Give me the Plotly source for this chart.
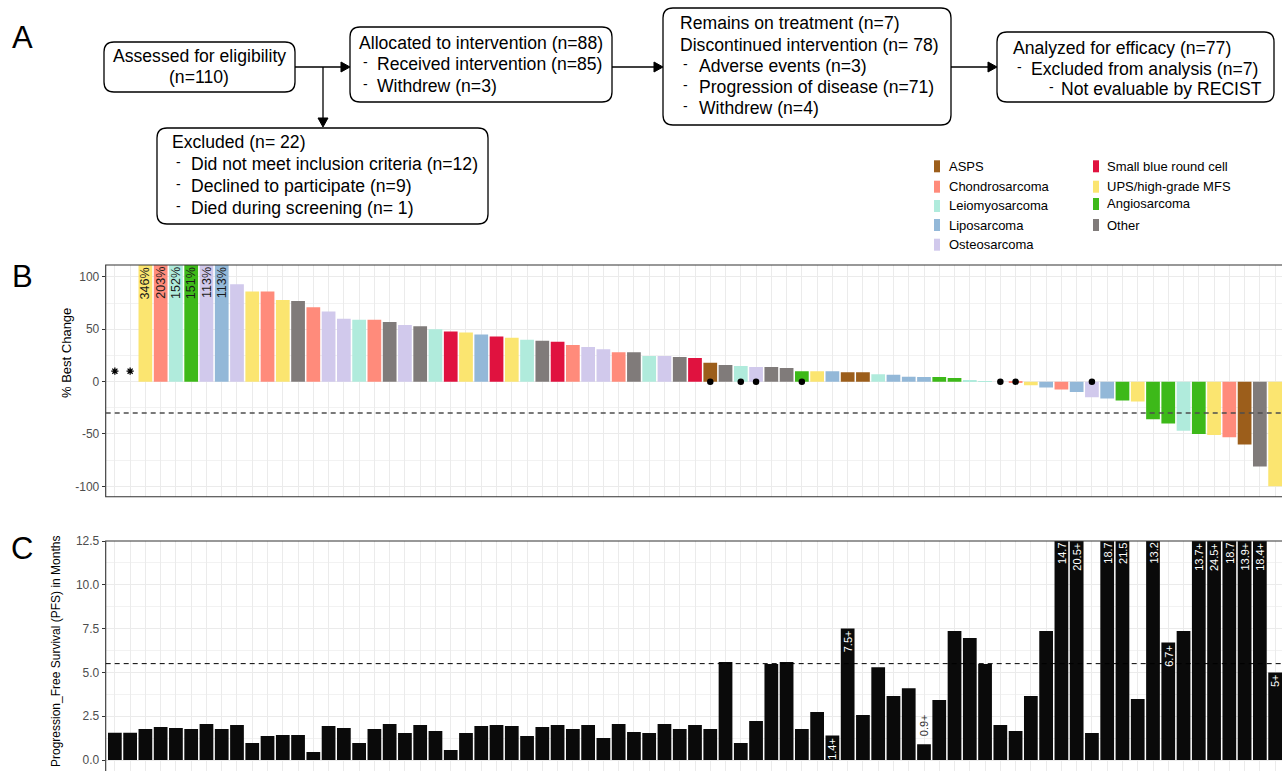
import plotly.graph_objects as go

W, H = 1282, 771

# ---------------- data ----------------
patients = list(range(1, 78))

best_change = [None, None, 346, 203, 152, 151, 113, 113, 93, 86, 86, 78, 77, 71, 67, 60, 59, 59,
               57, 54, 53, 50, 48, 47, 45, 43, 42, 40, 39, 38, 35, 33, 31, 28, 28, 24.5, 24.5,
               23.5, 22.5, 18, 16, 15, 14, 14, 13, 10, 10, 10, 9, 9, 7, 6.5, 4.7, 4.5, 4.5, 3.5,
               1.5, 0.4, 0, -1.3, -3.5, -5.5, -7.5, -10, -15, -16, -18, -19, -36, -40, -47, -50,
               -51, -53, -60, -81, -100]

histology = [None, None, "UPS/high-grade MFS", "Chondrosarcoma", "Leiomyosarcoma", "Angiosarcoma",
             "Osteosarcoma", "Liposarcoma", "Osteosarcoma", "UPS/high-grade MFS", "Chondrosarcoma",
             "UPS/high-grade MFS", "Other", "Chondrosarcoma", "Osteosarcoma", "Osteosarcoma",
             "Leiomyosarcoma", "Chondrosarcoma", "Other", "Osteosarcoma", "Other", "Leiomyosarcoma",
             "Small blue round cell", "UPS/high-grade MFS", "Liposarcoma", "Small blue round cell",
             "UPS/high-grade MFS", "Leiomyosarcoma", "Other", "Small blue round cell", "Chondrosarcoma",
             "Osteosarcoma", "Osteosarcoma", "Chondrosarcoma", "Other", "Leiomyosarcoma", "Osteosarcoma",
             "Other", "Small blue round cell", "ASPS", "Other", "Leiomyosarcoma", "Osteosarcoma", "Other",
             "Other", "Angiosarcoma", "UPS/high-grade MFS", "Liposarcoma", "ASPS", "ASPS",
             "Leiomyosarcoma", "Liposarcoma", "Liposarcoma", "Liposarcoma", "Angiosarcoma",
             "Angiosarcoma", "Leiomyosarcoma", "Leiomyosarcoma", "Other", "Chondrosarcoma",
             "UPS/high-grade MFS", "Liposarcoma", "Chondrosarcoma", "Liposarcoma", "Osteosarcoma",
             "Liposarcoma", "Angiosarcoma", "UPS/high-grade MFS", "Angiosarcoma", "Angiosarcoma",
             "Leiomyosarcoma", "Angiosarcoma", "UPS/high-grade MFS", "Chondrosarcoma", "ASPS", "Other",
             "UPS/high-grade MFS"]

label_b_patients = [3, 4, 5, 6, 7, 8]
label_b_text = ["346%", "203%", "152%", "151%", "113%", "113%"]
dot_patients = [40, 42, 43, 46, 59, 60, 65]
star_patients = [1, 2]
star_level = 10
response_threshold = -30

pfs = [1.55, 1.55, 1.77, 1.88, 1.83, 1.77, 2.05, 1.77, 2.0, 0.97, 1.37, 1.43, 1.43, 0.46, 1.94,
       1.83, 0.97, 1.77, 2.05, 1.54, 2.0, 1.65, 0.57, 1.54, 1.94, 2.0, 1.94, 1.37, 1.88, 2.0,
       1.77, 2.0, 1.25, 2.05, 1.6, 1.54, 2.05, 1.77, 2.0, 1.77, 5.59, 0.97, 2.22, 5.48, 5.59,
       1.77, 2.74, 1.4, 7.5, 2.57, 5.3, 3.65, 4.1, 0.9, 3.42, 7.36, 6.96, 5.48, 2.0, 1.65, 3.65,
       7.36, 14.7, 20.5, 1.54, 18.7, 21.5, 3.48, 13.2, 6.7, 7.36, 13.7, 24.5, 18.7, 13.9, 18.4, 5.0]
label_c_patients = [48, 49, 54, 63, 64, 66, 67, 69, 70, 72, 73, 74, 75, 76, 77]
label_c_text = ["1.4+", "7.5+", "0.9+", "14.7", "20.5+", "18.7", "21.5", "13.2", "6.7+", "13.7+",
                "24.5+", "18.7", "13.9+", "18.4+", "5+"]
median_pfs = 5.5

hist_names = ["ASPS", "Chondrosarcoma", "Leiomyosarcoma", "Liposarcoma", "Osteosarcoma",
              "Small blue round cell", "UPS/high-grade MFS", "Angiosarcoma", "Other"]
hist_colors = ["#9C5E1B", "#FF8B7B", "#B0EBDC", "#93B8D8", "#D1C9EC",
               "#E0123F", "#FBE570", "#3DB919", "#807B7A"]

b_yticks = [-100, -50, 0, 50, 100]
b_yticktext = ["-100", "-50", "0", "50", "100"]
c_yticks = [0, 2.5, 5, 7.5, 10, 12.5]
c_yticktext = ["0.0", "2.5", "5.0", "7.5", "10.0", "12.5"]

# ---------------- helpers (pixel -> paper) ----------------
FONT = "Liberation Sans, Arial, Helvetica, sans-serif"


def X(px):
    return px / W


def Y(py):
    return 1 - py / H


def P(x, y):
    return f"{X(x):.5f},{Y(y):.5f}"


def rrect(x0, y0, x1, y1, r=10):
    return (f"M {P(x0 + r, y0)} L {P(x1 - r, y0)} Q {P(x1, y0)} {P(x1, y0 + r)} "
            f"L {P(x1, y1 - r)} Q {P(x1, y1)} {P(x1 - r, y1)} L {P(x0 + r, y1)} "
            f"Q {P(x0, y1)} {P(x0, y1 - r)} L {P(x0, y0 + r)} Q {P(x0, y0)} {P(x0 + r, y0)} Z")


shapes = []
annotations = []


def text(x, y, s, size=17.6, xanchor="left", color="black", yshift=0):
    annotations.append(dict(x=X(x), y=Y(y), xref="paper", yref="paper", text=s, showarrow=False,
                            xanchor=xanchor, yanchor="middle", yshift=yshift,
                            font=dict(family=FONT, size=size, color=color)))


def box(x0, y0, x1, y1):
    shapes.append(dict(type="path", path=rrect(x0, y0, x1, y1), xref="paper", yref="paper",
                       line=dict(color="black", width=1.3), fillcolor="white"))


def line(x0, y0, x1, y1):
    shapes.append(dict(type="line", x0=X(x0), y0=Y(y0), x1=X(x1), y1=Y(y1), xref="paper",
                       yref="paper", line=dict(color="black", width=1.3)))


def head(tx, ty, direction):
    if direction == "right":
        pts = [(tx, ty), (tx - 9, ty - 5), (tx - 9, ty + 5)]
    else:
        pts = [(tx, ty), (tx - 5, ty - 9), (tx + 5, ty - 9)]
    path = "M " + " L ".join(P(a, b) for a, b in pts) + " Z"
    shapes.append(dict(type="path", path=path, xref="paper", yref="paper",
                       line=dict(color="black", width=1), fillcolor="black"))


# ---------------- flowchart (A) ----------------
box(104, 42, 295, 92)
text(199.5, 56, "Assessed for eligibility", xanchor="center")
text(199.5, 77, "(n=110)", xanchor="center")

line(295, 67, 342, 67)
head(350, 67, "right")
line(323, 67, 323, 119)
head(323, 127, "down")

box(350, 27, 612, 102)
text(357, 43, "Allocated to intervention (n=88)")
text(361, 62, "-", size=14)
text(375, 64, "Received intervention (n=85)")
text(361, 84, "-", size=14)
text(375, 86, "Withdrew (n=3)")

line(612, 67, 655, 67)
head(663, 67, "right")

box(663, 8, 951, 125)
text(678, 23, "Remains on treatment (n=7)")
text(678, 45, "Discontinued intervention (n= 78)")
text(681, 64, "-", size=14)
text(697, 66, "Adverse events (n=3)")
text(681, 85, "-", size=14)
text(697, 87, "Progression of disease (n=71)")
text(681, 106, "-", size=14)
text(697, 108, "Withdrew (n=4)")

line(951, 67, 989, 67)
head(997, 67, "right")

box(997, 32, 1274, 102)
text(1010.5, 48, "Analyzed for efficacy (n=77)")
text(1015, 67, "-", size=14)
text(1028.5, 69, "Excluded from analysis (n=7)")
text(1046.5, 87, "-", size=14)
text(1058.5, 89, "Not evaluable by RECIST")

box(157, 128, 488, 224)
text(169.5, 142, "Excluded (n= 22)")
text(173.5, 162, "-", size=14)
text(188.5, 164, "Did not meet inclusion criteria (n=12)")
text(173.5, 184, "-", size=14)
text(188.5, 186, "Declined to participate (n=9)")
text(173.5, 206, "-", size=14)
text(188.5, 208, "Died during screening (n= 1)")

# panel letters
text(22, 37, "A", size=31, xanchor="center")
text(22, 276, "B", size=31, xanchor="center")
text(22, 548, "C", size=31, xanchor="center")

# ---------------- legend ----------------
leg_rows = [(934, 947, 166.3), (934, 947, 186.7), (934, 947, 206), (934, 947, 225), (934, 947, 244.7),
            (1093, 1105, 166.3), (1093, 1105, 186.7), (1093, 1105, 204), (1093, 1105, 225)]
for name, col, (sx, tx, ry) in zip(hist_names, hist_colors, leg_rows):
    shapes.append(dict(type="rect", x0=X(sx), x1=X(sx + 6), y0=Y(ry + 6), y1=Y(ry - 6),
                       xref="paper", yref="paper", line=dict(width=0), fillcolor=col))
    text(tx, ry, name, size=13)

# ---------------- figure ----------------
cmap = dict(zip(hist_names, hist_colors))
bar_colors = [cmap.get(h, "rgba(0,0,0,0)") for h in histology]

fig = go.Figure()
fig.add_trace(go.Bar(x=patients, y=best_change, marker=dict(color=bar_colors, line=dict(width=0)),
                     width=0.9, xaxis="x", yaxis="y", hoverinfo="x+y"))
fig.add_trace(go.Scatter(x=dot_patients, y=[0] * len(dot_patients), mode="markers",
                         marker=dict(color="black", size=6.5), xaxis="x", yaxis="y"))
fig.add_trace(go.Scatter(x=star_patients, y=[star_level] * len(star_patients), mode="markers",
                         marker=dict(symbol="asterisk-open", size=6, color="black",
                                     line=dict(color="black", width=1.3)), xaxis="x", yaxis="y"))
fig.add_trace(go.Bar(x=patients, y=pfs, marker=dict(color="#0a0a0a", line=dict(width=0)),
                     width=0.9, xaxis="x2", yaxis="y2"))

B_TOP, B_BOT = 265, 496.7
C_TOP = 541
X_LEFT = 105.7
XR = [0.4, 77.45]
B_YR = [-109.9, 111.4]
C_YR = [-0.628, 12.5]

grid = "#ebebeb"
common_x = dict(range=XR, tickvals=patients, showticklabels=False, ticks="", showgrid=True,
                gridcolor=grid, gridwidth=1, zeroline=False, showline=False, fixedrange=True,
                automargin=False)
common_y = dict(ticks="outside", ticklen=3, tickwidth=1, tickcolor="#333333",
                tickfont=dict(family=FONT, size=12, color="#4d4d4d"), showgrid=True,
                gridcolor=grid, gridwidth=1, zeroline=False, showline=False, fixedrange=True,
                automargin=False)

fig.update_layout(
    width=W, height=H, margin=dict(l=0, r=0, t=0, b=0, pad=0, autoexpand=False), autosize=False,
    paper_bgcolor="white", plot_bgcolor="white", showlegend=False,
    font=dict(family=FONT, color="black"),
    xaxis=dict(domain=[X(X_LEFT), 1], anchor="y", **common_x),
    yaxis=dict(domain=[Y(B_BOT), Y(B_TOP)], anchor="x", range=B_YR, tickvals=b_yticks,
               ticktext=b_yticktext,
               minor=dict(tickvals=[-75, -25, 25, 75], showgrid=True, gridcolor="#f2f2f2",
                          gridwidth=0.6, ticks=""), **common_y),
    xaxis2=dict(domain=[X(X_LEFT), 1], anchor="y2", **common_x),
    yaxis2=dict(domain=[0, Y(C_TOP)], anchor="x2", range=C_YR, tickvals=c_yticks,
                ticktext=c_yticktext,
                minor=dict(tickvals=[1.25, 3.75, 6.25, 8.75, 11.25], showgrid=True,
                           gridcolor="#f2f2f2", gridwidth=0.6, ticks=""), **common_y),
)

# panel borders
shapes.append(dict(type="rect", xref="paper", yref="paper", x0=X(X_LEFT), x1=X(1284),
                   y0=Y(B_BOT), y1=Y(B_TOP), line=dict(color="#333333", width=1.1),
                   fillcolor="rgba(0,0,0,0)", layer="above"))
shapes.append(dict(type="rect", xref="paper", yref="paper", x0=X(X_LEFT), x1=X(1284),
                   y0=Y(800), y1=Y(C_TOP), line=dict(color="#333333", width=1.1),
                   fillcolor="rgba(0,0,0,0)", layer="above"))

# reference lines
shapes.append(dict(type="line", xref="x", yref="y", x0=XR[0], x1=XR[1], y0=response_threshold,
                   y1=response_threshold, line=dict(color="#4d4d4d", width=1.5, dash="5px,4px"),
                   layer="above"))
shapes.append(dict(type="line", xref="x2", yref="y2", x0=XR[0], x1=XR[1], y0=median_pfs,
                   y1=median_pfs, line=dict(color="black", width=1, dash="5px,4px"),
                   layer="above"))

# value labels panel B
for p, s in zip(label_b_patients, label_b_text):
    annotations.append(dict(x=p, y=B_YR[1], xref="x", yref="y", text=s, showarrow=False,
                            textangle=-90, xanchor="center", yanchor="top",
                            font=dict(family=FONT, size=12.5, color="#1a1a1a")))

# value labels panel C
for p, s in zip(label_c_patients, label_c_text):
    v = pfs[p - 1]
    if v < 1:
        annotations.append(dict(x=p, y=v, xref="x2", yref="y2", text=s, showarrow=False,
                                textangle=-90, xanchor="center", yanchor="bottom", yshift=6,
                                font=dict(family=FONT, size=11, color="#333333")))
    else:
        annotations.append(dict(x=p, y=min(v, C_YR[1]), xref="x2", yref="y2", text=s,
                                showarrow=False, textangle=-90, xanchor="center", yanchor="top",
                                font=dict(family=FONT, size=11, color="white")))

# axis titles
annotations.append(dict(x=X(67), y=Y(353), xref="paper", yref="paper", text="% Best Change",
                        showarrow=False, textangle=-90, xanchor="center", yanchor="middle",
                        font=dict(family=FONT, size=13, color="black")))
annotations.append(dict(x=X(56), y=Y(652), xref="paper", yref="paper",
                        text="Progression_Free Survival (PFS) in Months",
                        showarrow=False, textangle=-90, xanchor="center", yanchor="middle",
                        font=dict(family=FONT, size=12, color="black")))

fig.update_layout(shapes=shapes, annotations=annotations)

fig.write_html(
    "out.html",
    config={"displayModeBar": False},
    post_script=("var gd=document.getElementsByClassName('plotly-graph-div')[0];"
                 "gd.style.position='fixed';gd.style.top='0px';gd.style.left='0px';"
                 "document.body.style.margin='0';document.body.style.padding='0';"
                 "document.documentElement.style.overflow='hidden';"
                 "document.body.style.overflow='hidden';"),
)
